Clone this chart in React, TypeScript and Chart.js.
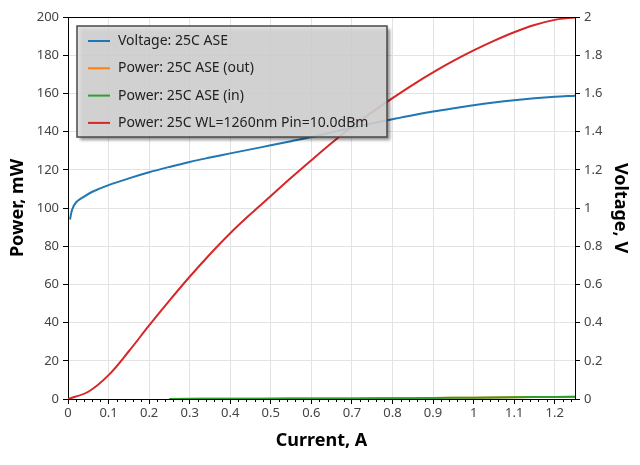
import { useEffect, useRef } from "react";
import { Chart, registerables } from "chart.js";

Chart.register(...registerables);

const FONT = "'Noto Sans', 'Open Sans', sans-serif";

// voltage curve, current in A, voltage in V (right axis)
const voltageCurrent = [0.005, 0.01, 0.02, 0.04, 0.06, 0.1, 0.15, 0.2, 0.25, 0.3, 0.35, 0.4, 0.45, 0.5, 0.55, 0.6, 0.65, 0.7, 0.75, 0.8, 0.85, 0.9, 0.95, 1.0, 1.05, 1.1, 1.15, 1.2, 1.25];
const voltage = [0.94, 0.99, 1.03, 1.06, 1.085, 1.12, 1.155, 1.187, 1.215, 1.241, 1.264, 1.286, 1.307, 1.328, 1.35, 1.372, 1.396, 1.42, 1.443, 1.465, 1.486, 1.505, 1.522, 1.538, 1.552, 1.564, 1.574, 1.582, 1.588];

// output power with 1260nm seed, mW
const powerCurrent = [0, 0.05, 0.1, 0.15, 0.2, 0.25, 0.3, 0.35, 0.4, 0.45, 0.5, 0.55, 0.6, 0.65, 0.7, 0.75, 0.8, 0.85, 0.9, 0.95, 1.0, 1.05, 1.1, 1.15, 1.2, 1.25];
const powerWL1260 = [0, 3.8, 12.5, 25, 38.5, 51.5, 64, 75.8, 86.8, 96.8, 106.3, 115.8, 125, 134, 142.5, 150.2, 157.5, 164.5, 171, 177, 182.5, 187.5, 192, 195.8, 198.5, 199.8];

// ASE power, mW
const aseCurrent = [0.25, 0.4, 0.55, 0.7, 0.85, 0.95, 1.05, 1.15, 1.25];
const aseOut = [0.05, 0.1, 0.2, 0.3, 0.45, 0.6, 0.8, 1.0, 1.2];
const aseIn = [0.05, 0.1, 0.2, 0.3, 0.45, 0.6, 0.8, 1.0, 1.2];

const xTicks = [0, 0.1, 0.2, 0.3, 0.4, 0.5, 0.6, 0.7, 0.8, 0.9, 1, 1.1, 1.2];

const labels = ["Voltage: 25C ASE", "Power: 25C ASE (out)", "Power: 25C ASE (in)", "Power: 25C WL=1260nm Pin=10.0dBm"];
const colors = ["#1f77b4", "#ff7f0e", "#2ca02c", "#d62728"];

const pts = (xs: number[], ys: number[]) => xs.map((x, i) => ({ x, y: ys[i] }));
const fmt = (v: any) => `${+Number(v).toFixed(2)}`;

// minor ticks on the current axis + frame round the plot
const framePlugin = {
  id: "frame",
  afterDraw(chart: any) {
    const { ctx, chartArea: a, scales } = chart;
    const x = scales.x;
    ctx.save();
    ctx.strokeStyle = "#000";
    ctx.lineWidth = 1;
    for (let i = 1; i < 63; i++) {
      if (i % 5 === 0) continue;
      const px = Math.round(x.getPixelForValue(i * 0.02)) + 0.5;
      ctx.beginPath();
      ctx.moveTo(px, a.bottom);
      ctx.lineTo(px, a.bottom + 3);
      ctx.stroke();
    }
    ctx.beginPath();
    ctx.moveTo(a.left, a.top + 0.5);
    ctx.lineTo(a.right, a.top + 0.5);
    ctx.stroke();
    ctx.restore();
  },
};

const legendPlugin = {
  id: "boxLegend",
  afterDraw(chart: any) {
    const { ctx } = chart;
    const bx = 77, by = 26, bw = 310, bh = 111;
    ctx.save();
    ctx.shadowColor = "rgba(0,0,0,0.5)";
    ctx.shadowOffsetX = 3;
    ctx.shadowOffsetY = 3;
    ctx.shadowBlur = 3;
    ctx.fillStyle = "rgba(220,220,220,0.85)";
    ctx.fillRect(bx, by, bw, bh);
    ctx.shadowColor = "transparent";
    ctx.strokeStyle = "#4a4a4a";
    ctx.lineWidth = 1.5;
    ctx.strokeRect(bx, by, bw, bh);
    ctx.font = `14px ${FONT}`;
    ctx.textBaseline = "middle";
    chart.data.datasets.forEach((ds: any, i: number) => {
      const y = by + 15 + i * 27.3;
      ctx.strokeStyle = ds.borderColor;
      ctx.lineWidth = 2;
      ctx.beginPath();
      ctx.moveTo(88, y);
      ctx.lineTo(110, y);
      ctx.stroke();
      ctx.fillStyle = "#222";
      ctx.fillText(ds.label, 118, y);
    });
    ctx.restore();
  },
};

export default function App() {
  const canvasRef = useRef<HTMLCanvasElement | null>(null);

  useEffect(() => {
    if (!canvasRef.current) return;
    const line = (i: number, data: { x: number; y: number }[], axis: string, order = 0) => ({
      label: labels[i],
      data,
      yAxisID: axis,
      borderColor: colors[i],
      backgroundColor: colors[i],
      borderWidth: 2,
      pointRadius: 0,
      tension: 0.35,
      order,
    });

    const chart = new Chart(canvasRef.current, {
      type: "line",
      data: {
        datasets: [
          line(0, pts(voltageCurrent, voltage), "y1"),
          line(1, pts(aseCurrent, aseOut), "y", 1),
          line(2, pts(aseCurrent, aseIn), "y", 0),
          line(3, pts(powerCurrent, powerWL1260), "y", 2),
        ],
      },
      options: {
        responsive: false,
        animation: false,
        layout: { padding: { top: 17, left: 0, right: 0, bottom: 0 } },
        scales: {
          x: {
            type: "linear",
            min: 0,
            max: 1.25,
            afterBuildTicks: (s: any) => {
              s.ticks = xTicks.map(value => ({ value }));
            },
            afterFit: (s: any) => {
              s.height = 66;
            },
            ticks: { callback: fmt, color: "#444", font: { family: FONT, size: 13 }, padding: 1, maxRotation: 0 },
            grid: { color: "#e3e3e3", tickColor: "#000", tickLength: 5 },
            border: { color: "#000", width: 1 },
            title: { display: true, text: "Current, A", color: "#000", font: { family: FONT, size: 18, weight: "bold" }, padding: { bottom: 13 } },
          },
          y: {
            position: "left",
            min: 0,
            max: 200,
            ticks: { stepSize: 20, color: "#444", font: { family: FONT, size: 13 }, padding: 4 },
            afterFit: (s: any) => {
              s.width = 68;
            },
            grid: { color: "#e3e3e3", tickColor: "#000", tickLength: 5 },
            border: { color: "#000", width: 1 },
            title: { display: true, text: "Power, mW", color: "#000", font: { family: FONT, size: 18, weight: "bold" }, padding: { top: 7 } },
          },
          y1: {
            position: "right",
            min: 0,
            max: 2,
            ticks: { stepSize: 0.2, callback: fmt, color: "#444", font: { family: FONT, size: 13 }, padding: 4 },
            afterFit: (s: any) => {
              s.width = 65;
            },
            grid: { drawOnChartArea: false, tickColor: "#000", tickLength: 5 },
            border: { color: "#000", width: 1 },
            title: { display: true, text: "Voltage, V", color: "#000", font: { family: FONT, size: 18, weight: "bold" }, padding: { top: 9 } },
          },
        },
        plugins: {
          legend: { display: false },
          tooltip: { enabled: false },
        },
      },
      plugins: [framePlugin, legendPlugin],
    });

    return () => {
      chart.destroy();
    };
  }, []);

  return (
    <div style={{ position: "absolute", left: 0, top: 0, width: 640, height: 465, background: "#fff" }}>
      <canvas ref={canvasRef} width={640} height={465} />
    </div>
  );
}
